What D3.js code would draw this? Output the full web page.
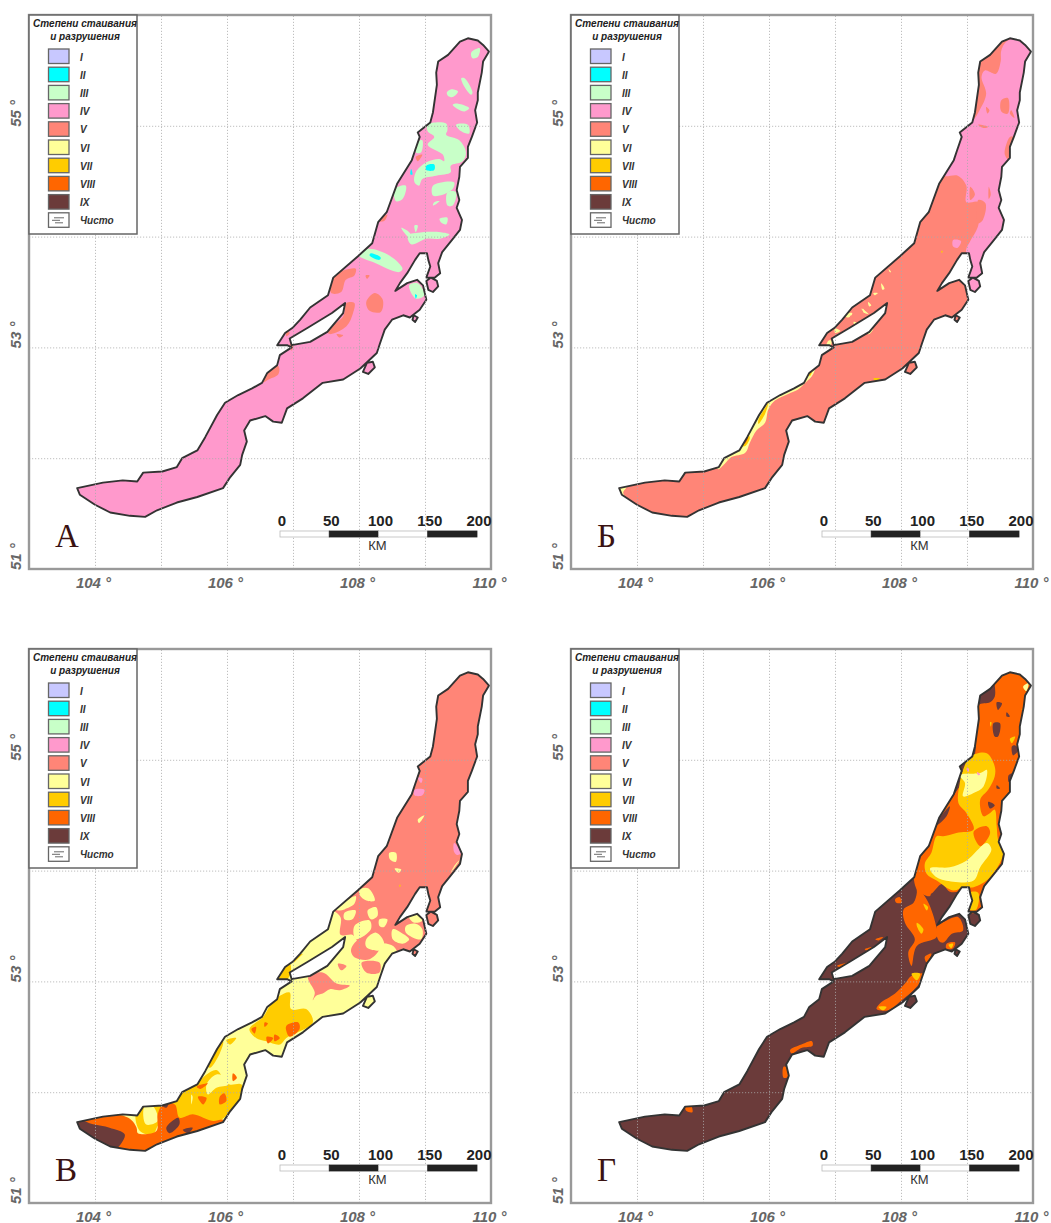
<!DOCTYPE html>
<html>
<head>
<meta charset="utf-8">
<script src="https://d3js.org/d3.v7.min.js"></script>
<style>
    body { margin: 0; background: white; }
    text { font-family: "Liberation Sans", Arial, sans-serif; }
</style>
</head>
<body>
<svg id="map" width="1051" height="1223"></svg>
<script>
// Ticks
const lonGrid = [104, 105, 106, 107, 108, 109];
const latGrid = [52, 53, 54, 55];
const lonLabels = [104, 106, 108, 110];
const latLabels = [51, 53, 55];
const kmTicks = [0, 50, 100, 150, 200];

// Legend
const legendClasses = ["I", "II", "III", "IV", "V", "VI", "VII", "VIII", "IX"];
const legendColours = ["#c8c8ff", "#00ffff", "#c8ffc8", "#ff99cc", "#ff8577", "#ffff99", "#ffcc00", "#ff6600", "#6b3b3a"];
const legendTitle = ["Степени стаивания", "и разрушения"];
const clearLabel = "Чисто";
const panelLetters = ["А", "Б", "В", "Г"];

// Shoreline, lon/lat
const lakeOutline = [[109.53,55.76],[109.65,55.79],[109.80,55.77],[109.88,55.73],[109.97,55.67],[109.88,55.58],[109.86,55.48],[109.80,55.30],[109.80,55.23],[109.76,55.14],[109.79,55.03],[109.71,54.90],[109.65,54.81],[109.65,54.71],[109.53,54.63],[109.52,54.54],[109.48,54.42],[109.52,54.33],[109.48,54.26],[109.56,54.15],[109.53,54.06],[109.41,53.97],[109.26,53.86],[109.20,53.76],[109.23,53.67],[109.15,53.63],[109.02,53.63],[109.08,53.73],[109.05,53.79],[109.03,53.85],[108.92,53.85],[108.85,53.79],[108.73,53.67],[108.62,53.58],[108.55,53.51],[108.73,53.58],[108.88,53.61],[108.97,53.56],[109.02,53.43],[108.92,53.34],[108.77,53.27],[108.67,53.29],[108.50,53.25],[108.39,53.16],[108.32,53.04],[108.27,52.95],[108.02,52.81],[107.76,52.71],[107.45,52.68],[107.15,52.54],[106.91,52.45],[106.83,52.32],[106.70,52.33],[106.58,52.38],[106.35,52.34],[106.26,52.25],[106.30,52.15],[106.23,52.03],[106.20,51.94],[106.05,51.83],[105.94,51.73],[105.55,51.65],[105.24,51.60],[104.94,51.53],[104.76,51.47],[104.53,51.48],[104.23,51.51],[104.00,51.58],[103.77,51.67],[103.73,51.73],[104.12,51.78],[104.42,51.80],[104.64,51.79],[104.73,51.87],[105.02,51.88],[105.24,51.92],[105.32,52.00],[105.55,52.07],[105.67,52.19],[105.85,52.39],[105.97,52.50],[106.17,52.57],[106.38,52.63],[106.53,52.68],[106.61,52.77],[106.76,52.84],[106.80,52.93],[106.98,53.00],[106.91,53.02],[106.76,53.02],[106.88,53.13],[107.00,53.18],[107.11,53.25],[107.26,53.36],[107.53,53.47],[107.61,53.63],[107.98,53.82],[108.20,53.94],[108.29,54.13],[108.42,54.22],[108.58,54.48],[108.80,54.69],[108.85,54.78],[108.92,54.90],[108.89,54.94],[109.08,55.03],[109.12,55.12],[109.18,55.37],[109.17,55.48],[109.20,55.58],[109.35,55.64]];
const olkhonStrait = [[107.79,53.40],[107.76,53.31],[107.52,53.14],[107.26,53.05],[106.98,53.02],[106.95,53.08],[107.23,53.18],[107.59,53.31]];
const bigIsland = [[108.21,52.87],[108.24,52.82],[108.14,52.76],[108.06,52.78],[108.12,52.86]];
const capeIsland = [[109.02,53.60],[109.09,53.63],[109.18,53.60],[109.20,53.55],[109.12,53.50],[109.05,53.52]];
const smallIsland = [[108.83,53.29],[108.89,53.27],[108.85,53.23],[108.81,53.25]];

// Melting classes per map: base class, then patches in drawing order
const baseClasses = ["IV", "V", "V", "IX"];

const patchesA = [
    ["III", [[109.70,55.66],[109.83,55.70],[109.80,55.62],[109.72,55.61]]],
    ["III", [[109.55,55.43],[109.60,55.43],[109.72,55.30],[109.70,55.28],[109.60,55.35]]],
    ["III", [[109.33,55.30],[109.40,55.33],[109.50,55.31],[109.42,55.26],[109.35,55.27]]],
    ["III", [[109.42,55.19],[109.50,55.20],[109.67,55.16],[109.60,55.13],[109.50,55.15]]],
    ["III", [[109.04,55.01],[109.32,55.02],[109.34,54.96],[109.32,54.92],[109.52,54.87],[109.62,54.76],[109.57,54.68],[109.39,54.64],[109.39,54.58],[109.17,54.55],[108.96,54.52],[108.91,54.46],[108.84,54.49],[108.86,54.58],[109.02,54.67],[109.22,54.70],[109.29,54.68],[109.27,54.74],[109.04,54.83],[109.14,54.90],[109.04,54.95]]],
    ["III", [[109.47,55.01],[109.65,55.01],[109.67,54.93],[109.55,54.95]]],
    ["III", [[108.90,54.86],[108.96,54.87],[108.94,54.76],[108.86,54.76]]],
    ["III", [[109.12,54.46],[109.44,54.49],[109.42,54.43],[109.22,54.37],[109.12,54.37]]],
    ["III", [[108.54,54.43],[108.71,54.46],[108.66,54.34],[108.56,54.32]]],
    ["III", [[109.34,54.40],[109.47,54.40],[109.42,54.28],[109.34,54.28]]],
    ["III", [[109.14,54.31],[109.22,54.32],[109.12,54.28]]],
    ["III", [[109.22,54.16],[109.34,54.17],[109.32,54.11],[109.24,54.13]]],
    ["III", [[108.64,54.08],[108.74,54.05],[108.81,53.99],[108.76,53.99]]],
    ["III", [[108.84,54.10],[108.89,54.10],[108.86,54.04]]],
    ["III", [[108.74,54.01],[108.96,54.04],[109.24,54.04],[109.37,54.02],[109.22,53.98],[109.02,53.98],[108.79,53.93]]],
    ["III", [[108.00,53.83],[108.13,53.89],[108.46,53.83],[108.66,53.71],[108.61,53.68],[108.21,53.77]]],
    ["III", [[108.76,53.56],[108.89,53.58],[108.99,53.47],[108.86,53.44]]],
    ["II", [[109.02,54.64],[109.14,54.65],[109.14,54.60],[109.02,54.60]]],
    ["II", [[108.18,53.85],[108.33,53.81],[108.31,53.79],[108.16,53.83]]],
    ["II", [[108.79,54.61],[108.81,54.56],[108.78,54.56]]],
    ["II", [[108.85,53.48],[108.88,53.47],[108.86,53.44]]],
    ["V", [[107.60,53.64],[107.95,53.71],[107.93,53.65],[107.80,53.61],[107.73,53.50],[107.58,53.49]]],
    ["V", [[108.11,53.41],[108.24,53.49],[108.36,53.43],[108.33,53.32],[108.16,53.33]]],
    ["V", [[107.81,53.40],[107.93,53.40],[107.91,53.31],[107.81,53.19],[107.56,53.12],[107.51,53.15],[107.76,53.28]]],
    ["V", [[106.65,52.82],[106.78,52.83],[106.78,52.76],[106.63,52.71],[106.53,52.68]]],
    ["V", [[106.90,53.15],[106.95,53.13],[106.90,53.10]]],
    ["V", [[106.95,53.03],[107.00,53.03],[106.98,52.97]]],
    ["V", [[107.66,53.12],[107.76,53.11],[107.70,53.09]]],
    ["V", [[108.28,54.14],[108.43,54.20],[108.38,54.14]]],
    ["V", [[108.86,54.72],[108.96,54.74],[108.89,54.68]]],
    ["V", [[108.10,53.65],[108.16,53.65],[108.12,53.62]]]
];

const patchesB = [
    ["IV", [[109.62,55.77],[109.52,55.68],[109.51,55.58],[109.44,55.47],[109.27,55.50],[109.22,55.44],[109.29,55.29],[109.19,55.14],[109.09,55.05],[108.91,54.99],[108.86,54.87],[108.76,54.67],[108.66,54.55],[108.86,54.55],[108.99,54.46],[108.99,54.31],[109.17,54.31],[109.17,54.10],[109.04,53.95],[108.99,53.89],[108.99,53.77],[108.99,53.53],[109.22,53.53],[110.13,54.67],[110.13,55.80]]],
    ["V", [[109.52,55.23],[109.62,55.25],[109.62,55.11],[109.52,55.13]]],
    ["V", [[109.29,55.17],[109.34,55.14],[109.31,55.11]]],
    ["V", [[109.17,55.01],[109.32,54.99],[109.25,54.98]]],
    ["V", [[109.57,54.75],[109.65,54.90],[109.70,54.90],[109.62,54.70]]],
    ["V", [[109.67,55.14],[109.72,55.07],[109.65,55.11]]],
    ["V", [[109.05,54.45],[109.12,54.38],[109.05,54.33]]],
    ["V", [[109.33,54.45],[109.36,54.38],[109.33,54.34]]],
    ["V", [[109.17,54.33],[109.28,54.30],[109.24,54.15],[109.17,54.12]]],
    ["IV", [[108.79,53.97],[108.91,53.96],[108.86,53.90],[108.79,53.91]]],
    ["VI", [[107.81,53.71],[107.85,53.68],[107.83,53.68]]],
    ["VI", [[107.50,53.41],[107.55,53.38],[107.52,53.37]]],
    ["VI", [[107.42,53.35],[107.46,53.32],[107.44,53.31]]],
    ["VI", [[107.28,53.23],[107.33,53.22],[107.30,53.20]]],
    ["VI", [[107.13,53.30],[107.26,53.31],[107.25,53.29],[107.13,53.28]]],
    ["VI", [[107.58,53.49],[107.65,53.49],[107.60,53.47]]],
    ["VI", [[107.70,53.58],[107.75,53.53],[107.72,53.52]]],
    ["VII", [[108.61,53.87],[108.63,53.87],[108.62,53.85]]],
    ["VI", [[103.70,51.73],[103.84,51.63],[103.79,51.69],[103.84,51.74]]],
    ["VI", [[105.21,51.94],[105.33,52.05],[105.56,52.14],[105.61,52.25],[105.81,52.43],[105.94,52.53],[106.09,52.59],[106.34,52.67],[106.49,52.71],[106.60,52.85],[106.70,52.85],[106.67,52.76],[106.55,52.68],[106.44,52.62],[106.29,52.58],[106.09,52.52],[105.99,52.44],[105.94,52.32],[105.81,52.25],[105.71,52.14],[105.64,52.05],[105.43,52.01],[105.33,51.95],[105.23,51.90]]],
    ["VII", [[105.59,52.11],[105.66,52.22],[105.71,52.19],[105.64,52.11]]],
    ["VIII", [[105.62,52.15],[105.66,52.22],[105.68,52.18],[105.63,52.13]]],
    ["VII", [[105.84,52.35],[105.96,52.47],[105.99,52.50],[105.94,52.40],[105.84,52.31]]],
    ["VII", [[106.60,52.79],[106.67,52.82],[106.62,52.74]]],
    ["VI", [[106.90,53.06],[106.95,53.06],[106.92,53.01],[106.87,53.01]]],
    ["VI", [[107.15,53.30],[107.23,53.28],[107.18,53.27]]],
    ["VI", [[107.40,53.35],[107.51,53.30],[107.45,53.31]]],
    ["VI", [[107.00,53.17],[107.08,53.15],[107.00,53.13]]],
    ["VI", [[107.45,53.14],[107.58,53.17],[107.52,53.12]]],
    ["VII", [[107.58,52.72],[107.68,52.72],[107.62,52.70]]]
];

const patchesC = [
    ["VI", [[103.4,51.3],[103.4,52.6],[106.5,53.2],[107.3,53.6],[107.55,53.65],[107.72,53.58],[107.72,53.42],[107.9,53.42],[108.0,53.35],[108.25,53.35],[108.55,53.30],[108.55,52.8],[107.5,52.3],[105.5,51.3]]],
    ["V", [[107.88,53.29],[108.04,53.40],[108.31,53.41],[108.31,53.29],[108.16,53.20],[108.01,53.20],[107.91,53.23]]],
    ["V", [[107.23,53.04],[107.45,53.08],[107.66,52.98],[107.86,52.96],[107.71,52.92],[107.56,52.93],[107.45,52.89],[107.35,52.87],[107.30,52.83],[107.33,52.90]]],
    ["V", [[107.68,53.16],[107.81,53.14],[107.73,53.10]]],
    ["V", [[108.04,53.17],[108.31,53.17],[108.31,53.08],[108.11,53.08]]],
    ["VI", [[108.01,53.83],[108.14,53.84],[108.24,53.73],[108.11,53.73],[108.01,53.78]]],
    ["VI", [[107.65,53.65],[107.95,53.77],[107.93,53.70],[107.78,53.65],[107.70,53.64]]],
    ["VI", [[108.13,53.64],[108.26,53.67],[108.28,53.59],[108.18,53.56]]],
    ["VI", [[107.93,53.50],[108.16,53.55],[108.18,53.47],[107.95,53.38]]],
    ["VI", [[108.11,53.38],[108.26,53.44],[108.38,53.35],[108.31,53.28],[108.11,53.31]]],
    ["VI", [[108.31,53.56],[108.43,53.56],[108.38,53.49],[108.31,53.50]]],
    ["VI", [[108.51,53.47],[108.64,53.44],[108.76,53.38],[108.66,53.34],[108.51,53.38]]],
    ["VI", [[108.71,53.50],[108.86,53.52],[108.96,53.47],[108.94,53.38],[108.71,53.44]]],
    ["VI", [[108.76,53.58],[108.89,53.61],[108.96,53.55],[108.84,53.53]]],
    ["VI", [[107.78,53.62],[107.95,53.64],[107.90,53.56],[107.78,53.56]]],
    ["VI", [[108.46,54.16],[108.56,54.16],[108.56,54.08],[108.47,54.10]]],
    ["VI", [[108.54,54.02],[108.64,54.01],[108.60,53.98]]],
    ["VI", [[108.89,54.46],[108.99,54.50],[108.91,54.43]]],
    ["VI", [[109.44,54.04],[109.53,54.10],[109.39,53.98]]],
    ["IV", [[108.84,54.73],[108.99,54.73],[108.96,54.68],[108.84,54.68]]],
    ["IV", [[108.89,54.84],[108.96,54.83],[108.94,54.79]]],
    ["IV", [[109.44,54.25],[109.55,54.16],[109.49,54.14],[109.44,54.17]]],
    ["VII", [[108.61,53.87],[108.63,53.87],[108.62,53.85]]],
    ["VII", [[104.63,51.83],[105.03,51.92],[105.28,52.01],[105.54,52.08],[105.69,52.16],[105.84,52.20],[105.96,52.11],[106.04,52.07],[106.22,52.07],[106.22,51.95],[105.89,51.74],[105.38,51.62],[104.98,51.71],[104.88,51.62],[104.68,51.65]]],
    ["VII", [[105.69,52.25],[105.84,52.43],[105.94,52.46],[105.89,52.35],[105.74,52.22]]],
    ["VII", [[105.99,52.47],[106.14,52.49],[106.04,52.43]]],
    ["VII", [[106.80,52.87],[106.95,52.90],[106.97,52.75],[107.20,52.75],[107.30,52.63],[106.90,52.49],[106.80,52.43],[106.60,52.46],[106.44,52.49],[106.34,52.57],[106.55,52.68],[106.65,52.78]]],
    ["VII", [[106.75,53.03],[106.95,53.16],[106.97,53.10],[106.90,53.01]]],
    ["VII", [[106.98,53.20],[107.15,53.25],[107.10,53.22],[107.00,53.17]]],
    ["VI", [[105.69,52.07],[105.84,52.16],[105.99,52.13],[106.02,52.07],[105.84,52.04],[105.71,51.98]]],
    ["VI", [[104.75,51.87],[104.88,51.87],[104.95,51.74],[104.77,51.71]]],
    ["VI", [[105.46,51.98],[105.48,51.96],[105.46,51.89]]],
    ["VIII", [[103.87,51.75],[104.32,51.80],[104.55,51.75],[104.63,51.68],[104.65,51.63],[104.93,51.65],[104.95,51.80],[105.03,51.89],[105.21,51.89],[105.28,51.77],[105.48,51.80],[105.64,51.77],[105.79,51.74],[105.94,51.75],[105.89,51.65],[104.98,51.44],[104.47,51.44],[103.97,51.59],[103.77,51.71]]],
    ["VIII", [[106.90,52.60],[107.08,52.63],[107.10,52.57],[106.95,52.50],[106.90,52.55]]],
    ["VIII", [[106.37,52.57],[106.44,52.59],[106.42,52.53]]],
    ["VIII", [[106.57,52.63],[106.62,52.62],[106.57,52.59]]],
    ["VIII", [[106.60,52.50],[106.70,52.49],[106.62,52.44]]],
    ["VIII", [[106.72,52.52],[106.80,52.49],[106.72,52.46]]],
    ["VIII", [[105.89,51.96],[105.96,51.99],[105.99,51.92],[105.89,51.89]]],
    ["VIII", [[105.56,51.96],[105.69,51.95],[105.64,51.89]]],
    ["VIII", [[105.54,52.05],[105.71,52.08],[105.60,52.03]]],
    ["VIII", [[106.09,52.17],[106.15,52.13],[106.09,52.10]]],
    ["IX", [[103.60,51.72],[103.77,51.75],[103.97,51.71],[104.22,51.68],[104.45,51.62],[104.40,51.54],[104.22,51.45],[104.02,51.50],[103.70,51.60]]],
    ["IX", [[105.08,51.68],[105.26,51.77],[105.28,51.71],[105.13,51.63]]],
    ["IX", [[105.03,51.87],[105.11,51.89],[105.08,51.86]]],
    ["IX", [[105.33,51.66],[105.48,51.68],[105.41,51.63]]]
];

const patchesD = [
    ["VIII", [[108.24,54.12],[108.19,53.97],[108.34,53.91],[108.44,53.79],[108.62,53.88],[108.74,53.81],[108.94,53.82],[109.02,53.85],[109.05,53.73],[108.97,53.63],[109.17,53.63],[110.05,54.70],[110.05,55.84],[109.45,55.84],[109.42,55.57],[109.35,55.52],[109.17,55.49],[109.10,55.00],[108.49,54.40],[108.34,54.19]]],
    ["VIII", [[108.21,53.98],[108.41,53.92],[108.44,53.77],[108.24,53.83]]],
    ["VIII", [[108.24,53.85],[108.39,53.74],[108.52,53.53],[108.54,53.40],[108.24,53.32],[108.16,53.14],[108.11,53.26],[108.21,53.38],[108.06,53.53],[108.04,53.65],[108.19,53.71],[108.24,53.80]]],
    ["VIII", [[107.91,53.74],[107.98,53.76],[108.01,53.71],[107.93,53.71]]],
    ["VIII", [[108.54,53.49],[108.69,53.55],[108.87,53.58],[108.94,53.46],[108.77,53.43],[108.64,53.35],[108.57,53.37]]],
    ["VIII", [[108.69,53.34],[108.82,53.35],[108.79,53.30],[108.69,53.29]]],
    ["VIII", [[108.36,53.22],[108.46,53.25],[108.39,53.17]]],
    ["VIII", [[108.16,53.05],[108.34,53.07],[108.31,53.01],[108.19,52.92],[108.01,52.83],[107.81,52.74],[107.63,52.75],[107.68,52.80],[107.91,52.89],[108.06,52.98]]],
    ["VIII", [[107.61,53.38],[107.73,53.40],[107.66,53.37]]],
    ["VIII", [[107.45,53.29],[107.56,53.31],[107.48,53.28]]],
    ["VIII", [[107.03,53.14],[107.20,53.17],[107.10,53.13]]],
    ["VIII", [[106.32,52.38],[106.49,52.43],[106.65,52.46],[106.66,52.42],[106.49,52.40],[106.34,52.35]]],
    ["VIII", [[106.22,52.23],[106.27,52.22],[106.29,52.14],[106.22,52.13]]],
    ["VIII", [[104.73,51.89],[104.81,51.89],[104.84,51.82],[104.75,51.83]]],
    ["IX", [[108.54,54.43],[108.74,54.58],[108.69,54.49],[108.54,54.41]]],
    ["IX", [[109.40,55.33],[109.50,55.33],[109.47,55.21],[109.42,55.21]]],
    ["IX", [[109.73,55.13],[109.78,55.09],[109.70,55.04],[109.68,55.12]]],
    ["IX", [[109.63,54.86],[109.70,54.88],[109.63,54.80]]],
    ["IX", [[109.32,54.62],[109.42,54.59],[109.35,54.56]]],
    ["IX", [[109.45,54.77],[109.50,54.74],[109.45,54.74]]],
    ["IX", [[109.45,55.52],[109.53,55.51],[109.47,55.45]]],
    ["IX", [[109.60,55.43],[109.65,55.39],[109.60,55.39]]],
    ["VII", [[109.05,55.03],[109.30,55.06],[109.42,54.94],[109.42,54.85],[109.32,54.73],[109.20,54.64],[109.25,54.49],[109.35,54.52],[109.42,54.55],[109.45,54.40],[109.47,54.28],[109.55,54.16],[109.35,53.94],[109.10,53.85],[108.94,53.85],[108.79,53.82],[108.54,53.91],[108.39,53.97],[108.36,54.06],[108.46,54.16],[108.54,54.31],[108.64,54.31],[108.84,54.34],[109.10,54.37],[108.99,54.52],[108.87,54.61],[108.89,54.79],[108.94,54.91]]],
    ["VII", [[109.04,53.80],[109.17,53.80],[109.14,53.65],[109.04,53.65]]],
    ["VII", [[108.24,53.53],[108.34,53.47],[108.31,53.43],[108.24,53.50]]],
    ["VII", [[108.34,53.70],[108.41,53.67],[108.39,53.64]]],
    ["VII", [[108.16,53.07],[108.29,53.07],[108.24,53.01]]],
    ["VII", [[107.66,52.77],[107.78,52.77],[107.73,52.74]]],
    ["VII", [[108.72,53.33],[108.79,53.34],[108.76,53.30]]],
    ["VII", [[109.83,55.46],[109.88,55.45],[109.85,55.43]]],
    ["VII", [[109.65,55.19],[109.73,55.21],[109.68,55.15]]],
    ["VII", [[109.35,55.34],[109.37,55.34],[109.36,55.30]]],
    ["VIII", [[109.10,54.35],[109.30,54.40],[109.35,54.34],[109.20,54.22]]],
    ["VI", [[108.44,54.02],[108.74,54.03],[108.99,54.09],[109.30,54.25],[109.37,54.19],[109.20,54.03],[109.10,53.91],[108.79,53.90],[108.54,53.94]]],
    ["VI", [[108.89,54.86],[109.20,54.88],[109.30,54.91],[109.25,54.76],[109.10,54.70],[108.94,54.67],[108.97,54.79]]],
    ["VI", [[109.85,55.66],[109.93,55.69],[109.90,55.62]]],
    ["IV", [[108.99,54.92],[109.03,54.92],[109.02,54.89]]],
    ["IV", [[109.15,54.89],[109.20,54.87],[109.17,54.86]]]
];

const panelPatches = [patchesA, patchesB, patchesC, patchesD];

// Panel placement
const panelOffsets = [[0, 0], [542, 0], [0, 634], [542, 634]];
const lonDomain = [103, 110], latDomain = [51, 56];

const svg = d3.select("#map");
const colourScale = d3.scaleOrdinal().domain(legendClasses).range(legendColours);

// Map scales, one frame reused by each panel
const x = d3.scaleLinear().domain(lonDomain).range([29, 491]);
const y = d3.scaleLinear().domain(latDomain).range([569, 15]);
const km = d3.scaleLinear().domain([0, 200]).range([280, 477]);

const ringLine = d3.line().x(d => x(d[0])).y(d => y(d[1])).curve(d3.curveLinearClosed);
const patchLine = d3.line().x(d => x(d[0])).y(d => y(d[1])).curve(d3.curveCatmullRomClosed);

const lakePath = [lakeOutline, olkhonStrait, bigIsland, capeIsland, smallIsland].map(r => ringLine(r)).join("");

svg.append("defs").append("clipPath").attr("id", "lakeClip")
    .append("path").attr("d", lakePath).attr("clip-rule", "evenodd");

panelOffsets.forEach((offset, i) => {
    const panel = svg.append("g").attr("transform", `translate(${offset[0]},${offset[1]})`);

    // White plate
    panel.append("rect").attr("x", x.range()[0]).attr("y", y.range()[1])
        .attr("width", x.range()[1] - x.range()[0])
        .attr("height", y.range()[0] - y.range()[1])
        .attr("fill", "white");

    // Lake base and melt patches
    panel.append("path").attr("d", lakePath).attr("fill-rule", "evenodd")
        .attr("fill", colourScale(baseClasses[i]));
    panel.append("g").attr("clip-path", "url(#lakeClip)")
        .selectAll("path").data(panelPatches[i]).enter().append("path")
        .attr("d", d => patchLine(d[1]))
        .attr("fill", d => colourScale(d[0]));
    panel.append("path").attr("d", lakePath).attr("fill", "none")
        .attr("stroke", "#333").attr("stroke-width", 1.9)
        .attr("stroke-linejoin", "round");

    // Grid, through the axes
    const gridX = panel.append("g").attr("transform", `translate(0,${y.range()[0]})`)
        .call(d3.axisBottom(x).tickValues(lonGrid).tickSize(-(y.range()[0] - y.range()[1])).tickFormat(""));
    const gridY = panel.append("g").attr("transform", `translate(${x.range()[0]},0)`)
        .call(d3.axisLeft(y).tickValues(latGrid).tickSize(-(x.range()[1] - x.range()[0])).tickFormat(""));
    [gridX, gridY].forEach(g => {
        g.select(".domain").remove();
        g.selectAll("line").attr("stroke", "#aaa").attr("stroke-opacity", 0.75)
            .attr("stroke-dasharray", "1.2,1.8");
    });

    // Frame
    panel.append("rect").attr("x", x.range()[0]).attr("y", y.range()[1])
        .attr("width", x.range()[1] - x.range()[0])
        .attr("height", y.range()[0] - y.range()[1])
        .attr("fill", "none").attr("stroke", "#999").attr("stroke-width", 2.4);

    // Tick labels
    const labelX = panel.append("g").attr("transform", `translate(0,${y.range()[0]})`)
        .call(d3.axisBottom(x).tickValues(lonLabels).tickSize(0).tickPadding(8).tickFormat(d => `${d} °`));
    labelX.select(".domain").remove();
    labelX.selectAll("text").attr("font-family", "Liberation Sans").attr("font-size", 15)
        .attr("font-weight", "bold").attr("font-style", "italic").attr("fill", "#666")
        .attr("dx", -2);
    const labelY = panel.append("g");
    labelY.selectAll("text").data(latLabels).enter().append("text")
        .attr("transform", d => `translate(21,${y(d) + 1}) rotate(-90)`)
        .attr("text-anchor", "start")
        .attr("font-size", 15).attr("font-weight", "bold").attr("font-style", "italic")
        .attr("fill", "#666")
        .text(d => `${d} °`);

    // Letter
    panel.append("text").attr("x", 55).attr("y", 547)
        .style("font-family", "'Liberation Serif', serif")
        .attr("font-size", 33).attr("fill", "#3a1212")
        .text(panelLetters[i]);

    // Scale bar
    const bar = panel.append("g");
    bar.selectAll("rect").data(d3.pairs(kmTicks)).enter().append("rect")
        .attr("x", d => km(d[0])).attr("y", 531)
        .attr("width", d => km(d[1]) - km(d[0])).attr("height", 6)
        .attr("fill", (d, j) => j % 2 ? "#222" : "white")
        .attr("stroke", (d, j) => j % 2 ? "#222" : "#bbb").attr("stroke-width", 0.8);
    bar.selectAll("text").data(kmTicks).enter().append("text")
        .attr("x", d => km(d) + 2).attr("y", 526).attr("text-anchor", "middle")
        .attr("font-size", 15).attr("font-weight", "bold").attr("fill", "#222")
        .text(d => d);
    panel.append("text").attr("x", km(100) - 1).attr("y", 550).attr("text-anchor", "middle")
        .attr("font-size", 13).attr("fill", "#333").text("КМ");

    // Legend
    const legend = panel.append("g");
    legend.append("rect").attr("x", x.range()[0]).attr("y", y.range()[1])
        .attr("width", 108).attr("height", 219)
        .attr("fill", "white").attr("stroke", "#666").attr("stroke-width", 1.5);
    legend.selectAll(".title").data(legendTitle).enter().append("text")
        .attr("class", "title")
        .attr("x", 85).attr("y", (d, j) => 27 + j * 13).attr("text-anchor", "middle")
        .attr("font-size", 10).attr("font-weight", "bold").attr("font-style", "italic")
        .attr("fill", "#222").text(d => d);
    const rows = legendClasses.concat([clearLabel]);
    const row = d3.scaleBand().domain(rows).range([47.5, 229.5]);
    const item = legend.selectAll(".item").data(rows).enter().append("g")
        .attr("class", "item")
        .attr("transform", d => `translate(0,${row(d)})`);
    item.append("rect").attr("x", 48.5).attr("y", 1.5).attr("width", 20.5).attr("height", 14.5)
        .attr("fill", d => d === clearLabel ? "white" : colourScale(d))
        .attr("stroke", "#666").attr("stroke-width", 1.3);
    item.append("text").attr("x", 80).attr("y", 13)
        .attr("font-size", 10).attr("font-weight", "bold").attr("font-style", "italic")
        .attr("fill", "#333").text(d => d);
    // "Clear water" swatch marks
    const clearRow = legend.append("g").attr("transform", `translate(0,${row(clearLabel)})`);
    [[54, 64, 6.5], [52, 60, 9], [55, 63, 11.5]].forEach(m => {
        clearRow.append("line").attr("x1", m[0]).attr("x2", m[1]).attr("y1", m[2]).attr("y2", m[2])
            .attr("stroke", "#444").attr("stroke-width", 0.8);
    });
});
</script>
</body>
</html>
